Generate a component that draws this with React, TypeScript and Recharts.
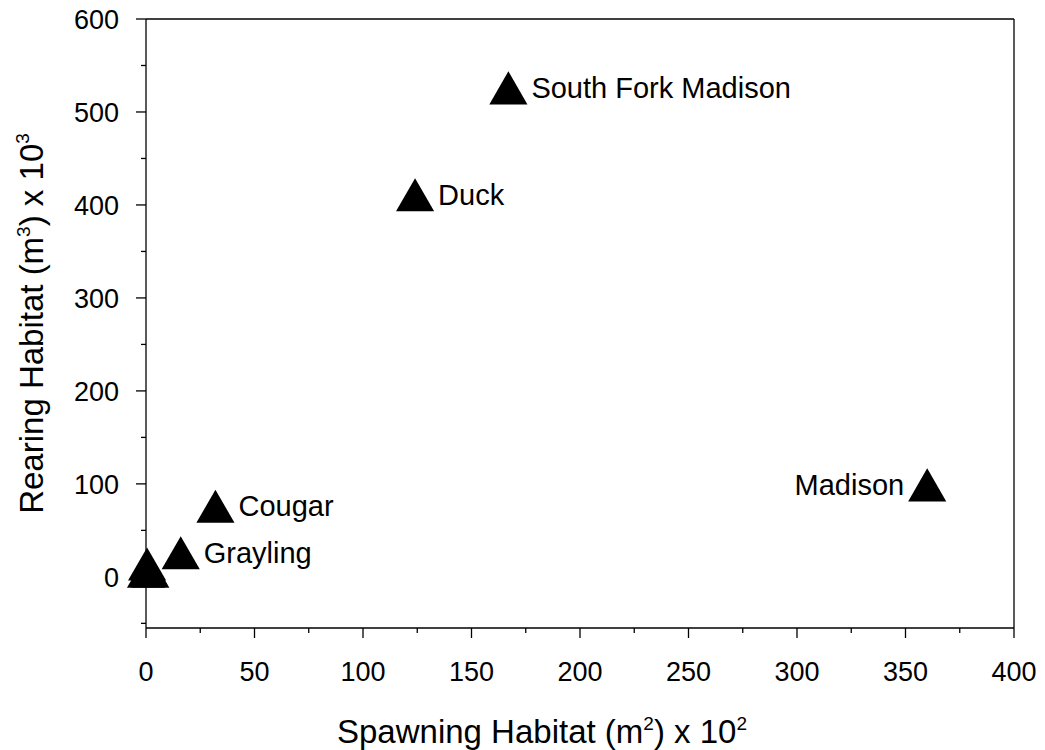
import { ScatterChart, Scatter, XAxis, YAxis, Label, Symbols } from 'recharts';

// labelled streams
const siteNames = ['South Fork Madison', 'Duck', 'Madison', 'Cougar', 'Grayling'];
const spawningHabitat = [167, 124, 360, 32, 16];
const rearingHabitat = [520, 405, 93, 70, 20];

// small streams piled up near the origin, drawn without labels
const smallSpawning = [0.5, 0, 2];
const smallRearing = [8, 0, 0];

const xMajorTicks = [0, 50, 100, 150, 200, 250, 300, 350, 400];
const xMinorTicks = [25, 75, 125, 175, 225, 275, 325, 375];
const yMajorTicks = [0, 100, 200, 300, 400, 500, 600];
const yMinorTicks = [-50, 50, 150, 250, 350, 450, 550];

// names whose label sits to the left of the marker
const labelOnLeft = ['Madison'];

const FONT = '"Liberation Sans", Arial, Helvetica, sans-serif';
const INK = '#000';
const MARKER_AREA = 630;

const sites = siteNames.map((name, i) => ({
  name,
  spawning: spawningHabitat[i],
  rearing: rearingHabitat[i],
}));
const smallSites = smallSpawning.map((s, i) => ({ name: '', spawning: s, rearing: smallRearing[i] }));
const allSites = [...smallSites, ...sites];

const xTicks = [...xMajorTicks, ...xMinorTicks].sort((a, b) => a - b);
const yTicks = [...yMajorTicks, ...yMinorTicks].sort((a, b) => a - b);

type Side = 'bottom' | 'top' | 'left' | 'right';

// tick lines drawn by hand so major and minor ticks get different lengths
const makeTick = (side: Side, majors: number[]) => (props: any) => {
  const { x, y, payload } = props;
  const major = majors.includes(payload.value);
  const len = major ? 10 : 5;
  const line = { stroke: INK, strokeWidth: 1.3 };
  if (side === 'bottom') {
    return (
      <g>
        <line x1={x} x2={x} y1={y} y2={y + len} {...line} />
        {major && (
          <text x={x} y={y + 53} textAnchor="middle" fontSize={27} fontFamily={FONT} fill={INK}>
            {payload.value}
          </text>
        )}
      </g>
    );
  }
  if (side === 'top') {
    return <line x1={x} x2={x} y1={y} y2={y + len} {...line} />;
  }
  if (side === 'right') {
    return <line x1={x} x2={x - len} y1={y} y2={y} {...line} />;
  }
  return (
    <g>
      <line x1={x} x2={x - len} y1={y} y2={y} {...line} />
      {major && (
        <text x={x - 27} y={y + 9.7} textAnchor="end" fontSize={27} fontFamily={FONT} fill={INK}>
          {payload.value}
        </text>
      )}
    </g>
  );
};

const XTitle = (props: any) => {
  const vb = props.viewBox ?? { x: 146, y: 628, width: 868, height: 122 };
  return (
    <text
      x={vb.x + vb.width / 2 - 38}
      y={vb.y + 114.5}
      textAnchor="middle"
      fontSize={33}
      fontFamily={FONT}
      fill={INK}
    >
      Spawning Habitat (m
      <tspan dy={-12.5} fontSize={19}>2</tspan>
      <tspan dy={12.5}>) x 10</tspan>
      <tspan dy={-12.5} fontSize={19}>2</tspan>
    </text>
  );
};

const YTitle = (props: any) => {
  const vb = props.viewBox ?? { x: 0, y: 19, width: 146, height: 609 };
  const cx = vb.x + 43;
  const cy = vb.y + vb.height / 2;
  return (
    <text
      x={cx}
      y={cy}
      transform={`rotate(-90, ${cx}, ${cy})`}
      textAnchor="middle"
      fontSize={33}
      fontFamily={FONT}
      fill={INK}
    >
      Rearing Habitat (m
      <tspan dy={-13} fontSize={19}>3</tspan>
      <tspan dy={13}>) x 10</tspan>
      <tspan dy={-14} fontSize={19}>3</tspan>
    </text>
  );
};

const Triangle = (props: any) => (
  <Symbols cx={props.cx} cy={props.cy} type="triangle" size={MARKER_AREA} fill={INK} />
);

const SiteLabel = (props: any) => {
  const { cx, cy, payload } = props;
  if (!payload?.name) return <g />;
  const left = labelOnLeft.includes(payload.name);
  return (
    <text
      x={left ? cx - 23 : cx + 23}
      y={cy + 4.5}
      textAnchor={left ? 'end' : 'start'}
      fontSize={29}
      fontFamily={FONT}
      fill={INK}
    >
      {payload.name}
    </text>
  );
};

const App = () => {
  return (
    <div style={{ position: 'absolute', left: 0, top: 0, background: '#fff' }}>
      <ScatterChart width={1045} height={750} margin={{ top: 18, right: 30, bottom: 0, left: 0 }}>
        <XAxis
          xAxisId="bottom"
          type="number"
          dataKey="spawning"
          orientation="bottom"
          domain={[0, 400]}
          ticks={xTicks}
          interval={0}
          height={122}
          tickSize={0}
          tickMargin={0}
          tickLine={false}
          axisLine={{ stroke: INK, strokeWidth: 1.3 }}
          tick={makeTick('bottom', xMajorTicks)}
        >
          <Label content={XTitle} />
        </XAxis>
        <XAxis
          xAxisId="top"
          type="number"
          dataKey="spawning"
          orientation="top"
          domain={[0, 400]}
          ticks={xTicks}
          interval={0}
          height={1}
          tickSize={0}
          tickMargin={0}
          tickLine={false}
          axisLine={{ stroke: INK, strokeWidth: 1.3 }}
          tick={makeTick('top', xMajorTicks)}
        />
        <YAxis
          yAxisId="left"
          type="number"
          dataKey="rearing"
          orientation="left"
          domain={[-55, 600]}
          ticks={yTicks}
          interval={0}
          width={146}
          tickSize={0}
          tickMargin={0}
          tickLine={false}
          axisLine={{ stroke: INK, strokeWidth: 1.3 }}
          tick={makeTick('left', yMajorTicks)}
        >
          <Label content={YTitle} />
        </YAxis>
        <YAxis
          yAxisId="right"
          type="number"
          dataKey="rearing"
          orientation="right"
          domain={[-55, 600]}
          ticks={yTicks}
          interval={0}
          width={1}
          tickSize={0}
          tickMargin={0}
          tickLine={false}
          axisLine={{ stroke: INK, strokeWidth: 1.3 }}
          tick={makeTick('right', yMajorTicks)}
        />
        <Scatter
          data={allSites}
          xAxisId="bottom"
          yAxisId="left"
          shape={Triangle}
          isAnimationActive={false}
        />
        <Scatter
          data={sites}
          xAxisId="bottom"
          yAxisId="left"
          shape={SiteLabel}
          isAnimationActive={false}
        />
      </ScatterChart>
    </div>
  );
};

export default App;
